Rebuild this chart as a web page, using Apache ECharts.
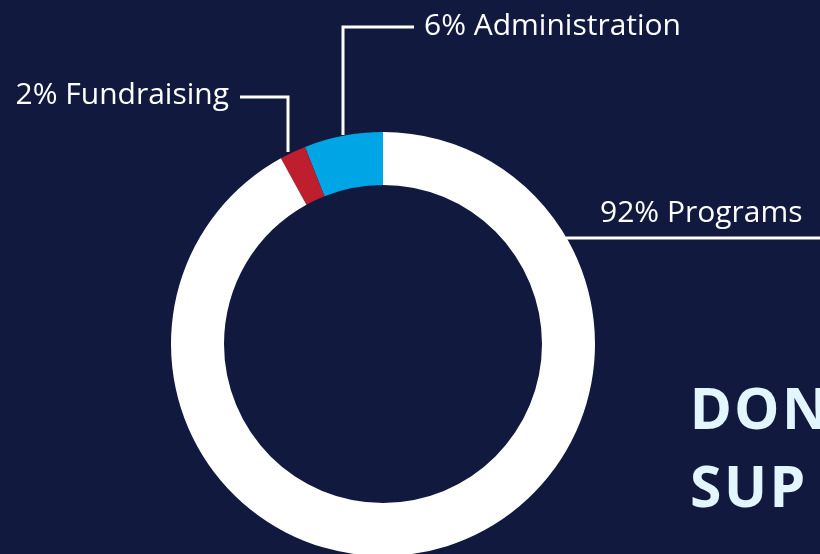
<!DOCTYPE html>
<html>
<head>
<meta charset="utf-8">
<script src="https://cdn.jsdelivr.net/npm/echarts@6/dist/echarts.min.js"></script>
<style>
  html, body { margin: 0; padding: 0; background: #12193f; }
  #chart { width: 820px; height: 554px; }
</style>
</head>
<body>
<div id="chart"></div>
<script>
// slice order: counter-clockwise from 12 o'clock
const categories = ["Administration", "Fundraising", "Programs"];
const shares = [6, 2, 92];
const sliceColors = ["#00a5e6", "#be1e2d", "#ffffff"];
// heading is cut by the right edge in the picture; only these letters show
const headingLines = ["DON", "SUP"];

// where each callout label sits, plus its leader line (px)
const callouts = {
  Administration: { x: 424, y: 26, align: "left", line: [[343, 135], [343, 27], [414, 27]] },
  Fundraising: { x: 229, y: 95, align: "right", line: [[288, 152], [288, 97], [240, 97]] },
  Programs: { x: 600, y: 213, align: "left", line: [[566, 238], [700, 238], [820, 238]] },
};

// canvas text has no letter-spacing, so slip a tiny rich-text space between letters
const spaced = (s) => s.split("").map((ch) => `{h|${ch}}`).join("{g| }");

const chart = echarts.init(document.getElementById("chart"));

chart.setOption({
  backgroundColor: "#12193f",
  animation: false,
  title: {
    text: headingLines.map(spaced).join("\n"),
    left: 685,
    top: 369,
    textStyle: {
      rich: {
        h: {
          color: "#e4f6fd",
          fontFamily: "Noto Sans",
          fontWeight: "bold",
          fontSize: 57,
          lineHeight: 78,
        },
        g: {
          fontFamily: "Noto Sans",
          fontSize: 10,
          lineHeight: 78,
        },
      },
    },
  },
  series: [
    {
      type: "pie",
      center: [383, 344],
      radius: [159, 212],
      startAngle: 90,
      clockwise: false,
      silent: true,
      data: categories.map((name, i) => ({
        name,
        value: shares[i],
        itemStyle: { color: sliceColors[i] },
      })),
      label: {
        show: true,
        position: "outside",
        formatter: "{c}% {b}",
        color: "#ffffff",
        fontFamily: "Open Sans",
        fontSize: 30,
      },
      labelLine: {
        show: true,
        lineStyle: { color: "#ffffff", width: 3 },
      },
      labelLayout: (params) => {
        const c = callouts[categories[params.dataIndex]];
        return {
          x: c.x,
          y: c.y,
          align: c.align,
          verticalAlign: "middle",
          labelLinePoints: c.line,
        };
      },
    },
  ],
});
</script>
</body>
</html>
